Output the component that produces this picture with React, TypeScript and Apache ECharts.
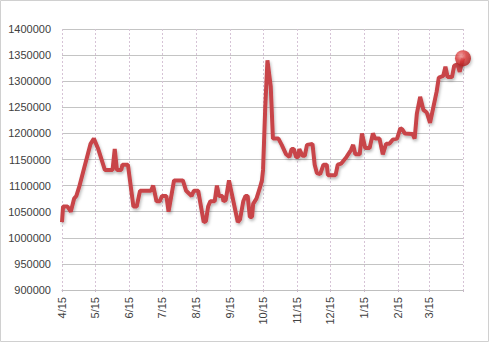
import React, { useEffect, useRef } from "react";
import * as echarts from "echarts";

const dates: string[] = [
  "2012-04-15", "2012-04-16", "2012-04-20", "2012-04-23", "2012-04-26", "2012-04-28",
  "2012-05-01", "2012-05-11", "2012-05-14", "2012-05-18", "2012-05-24", "2012-05-31",
  "2012-06-02", "2012-06-04", "2012-06-08", "2012-06-09", "2012-06-14", "2012-06-19",
  "2012-06-22", "2012-06-25", "2012-07-05", "2012-07-07", "2012-07-10", "2012-07-13",
  "2012-07-15", "2012-07-19", "2012-07-21", "2012-07-26", "2012-08-03", "2012-08-06",
  "2012-08-11", "2012-08-13", "2012-08-17", "2012-08-22", "2012-08-24", "2012-08-26",
  "2012-08-28", "2012-09-01", "2012-09-03", "2012-09-05", "2012-09-08", "2012-09-09",
  "2012-09-11", "2012-09-14", "2012-09-16", "2012-09-19", "2012-09-22", "2012-09-24",
  "2012-09-27", "2012-09-29", "2012-10-01", "2012-10-03", "2012-10-05", "2012-10-06",
  "2012-10-09", "2012-10-12", "2012-10-14", "2012-10-15", "2012-10-17", "2012-10-19",
  "2012-10-22", "2012-10-24", "2012-10-29", "2012-11-01", "2012-11-05", "2012-11-08",
  "2012-11-10", "2012-11-12", "2012-11-14", "2012-11-16", "2012-11-17", "2012-11-20",
  "2012-11-22", "2012-11-24", "2012-11-29", "2012-12-01", "2012-12-03", "2012-12-06",
  "2012-12-09", "2012-12-12", "2012-12-13", "2012-12-20", "2012-12-22", "2012-12-25",
  "2012-12-30", "2013-01-03", "2013-01-05", "2013-01-07", "2013-01-11", "2013-01-13",
  "2013-01-16", "2013-01-20", "2013-01-23", "2013-01-25", "2013-01-29", "2013-02-01",
  "2013-02-04", "2013-02-07", "2013-02-10", "2013-02-14", "2013-02-17", "2013-02-19",
  "2013-02-21", "2013-02-28", "2013-03-02", "2013-03-04", "2013-03-07", "2013-03-10",
  "2013-03-13", "2013-03-16", "2013-03-18", "2013-03-22", "2013-03-24", "2013-03-28",
  "2013-03-30", "2013-04-01", "2013-04-05", "2013-04-07", "2013-04-10", "2013-04-12",
  "2013-04-15",
];

const values: number[] = [
  1030000, 1060000, 1060000, 1050000, 1075000, 1080000,
  1100000, 1180000, 1190000, 1170000, 1130000, 1130000,
  1170000, 1130000, 1130000, 1140000, 1140000, 1060000,
  1060000, 1090000, 1090000, 1100000, 1070000, 1070000,
  1080000, 1080000, 1050000, 1110000, 1110000, 1090000,
  1080000, 1090000, 1090000, 1030000, 1032000, 1060000,
  1070000, 1070000, 1100000, 1080000, 1080000, 1070000,
  1072000, 1110000, 1090000, 1060000, 1030000, 1035000,
  1070000, 1080000, 1080000, 1040000, 1040000, 1065000,
  1075000, 1095000, 1110000, 1130000, 1250000, 1340000,
  1290000, 1190000, 1190000, 1178000, 1160000, 1155000,
  1170000, 1170000, 1155000, 1155000, 1170000, 1157000,
  1157000, 1178000, 1180000, 1140000, 1124000, 1122000,
  1140000, 1140000, 1120000, 1120000, 1140000, 1142000,
  1155000, 1168000, 1178000, 1160000, 1160000, 1200000,
  1172000, 1172000, 1200000, 1190000, 1190000, 1160000,
  1180000, 1180000, 1188000, 1190000, 1210000, 1207000,
  1200000, 1199000, 1190000, 1238000, 1270000, 1245000,
  1240000, 1220000, 1240000, 1280000, 1307000, 1310000,
  1328000, 1308000, 1308000, 1330000, 1332000, 1318000,
  1344000,
];

// Month tick marks on the 15th
const tickDates: string[] = [
  "2012-04-15", "2012-05-15", "2012-06-15", "2012-07-15", "2012-08-15", "2012-09-15",
  "2012-10-15", "2012-11-15", "2012-12-15", "2013-01-15", "2013-02-15", "2013-03-15",
  "2013-04-15",
];
const labelDates: string[] = tickDates.slice(0, 12);

const yMin = 900000;
const yMax = 1400000;
const yStep = 50000;

function toTs(s: string): number {
  const [y, m, d] = s.split("-").map(Number);
  return new Date(y, m - 1, d).getTime();
}

export default function App() {
  const ref = useRef<HTMLDivElement>(null);

  useEffect(() => {
    if (!ref.current) return;
    const chart = echarts.init(ref.current, null, { renderer: "svg" });
    const ticks = tickDates.map(toTs);
    const labelTicks = labelDates.map(toTs);
    const seriesData = dates.map((d, i) => [toTs(d), values[i]]);
    const last = seriesData[seriesData.length - 1];
    const font = "'Liberation Sans', Arial, sans-serif";

    chart.setOption({
      animation: false,
      backgroundColor: "#ffffff",
      grid: { left: 62, right: 27, top: 29, bottom: 53, containLabel: false, outerBoundsMode: "none" },
      xAxis: {
        type: "value",
        min: ticks[0],
        max: ticks[ticks.length - 1],
        axisLine: { show: true, lineStyle: { color: "#bfbfbf", width: 1 } },
        axisTick: {
          show: true,
          length: 4,
          customValues: ticks,
          lineStyle: { color: "#c8b8c8", type: [2, 2] },
        },
        axisLabel: {
          customValues: labelTicks,
          rotate: 90,
          margin: 7,
          color: "#404040",
          fontSize: 11,
          fontFamily: font,
          hideOverlap: false,
          formatter: (v: number) => {
            const d = new Date(v);
            return `${d.getMonth() + 1}/${d.getDate()}`;
          },
        },
        splitLine: {
          show: true,
          lineStyle: { color: "#d6c3d6", width: 1, type: [2, 2] },
        },
      },
      yAxis: {
        type: "value",
        min: yMin,
        max: yMax,
        interval: yStep,
        axisLine: { show: false },
        axisTick: { show: false },
        axisLabel: {
          margin: 11,
          color: "#404040",
          fontSize: 11,
          fontFamily: font,
          formatter: (v: number) => String(v),
        },
        splitLine: { show: true, lineStyle: { color: "#c4c4c4", width: 1 } },
      },
      series: [
        {
          type: "line",
          data: seriesData,
          symbol: "none",
          smooth: false,
          lineStyle: {
            color: "#c8454a",
            width: 4,
            shadowColor: "rgba(0,0,0,0.28)",
            shadowBlur: 3,
            shadowOffsetX: 1,
            shadowOffsetY: 2,
          },
          z: 3,
        },
        {
          type: "scatter",
          data: [last],
          symbol: "circle",
          symbolSize: 16,
          itemStyle: {
            color: {
              type: "radial",
              x: 0.38,
              y: 0.35,
              r: 0.7,
              colorStops: [
                { offset: 0, color: "#f59a9a" },
                { offset: 0.45, color: "#dc3a3a" },
                { offset: 1, color: "#a81c1c" },
              ],
            },
            shadowColor: "rgba(0,0,0,0.3)",
            shadowBlur: 3,
            shadowOffsetX: 1,
            shadowOffsetY: 2,
          },
          z: 5,
        },
      ],
      graphic: [
        {
          type: "rect",
          shape: { x: 0.5, y: 0.5, width: 488, height: 341 },
          style: { fill: "none", stroke: "#d0d0d0", lineWidth: 1 },
          silent: true,
        },
      ],
    });

    return () => {
      chart.dispose();
    };
  }, []);

  return (
    <div
      ref={ref}
      style={{ position: "absolute", left: 0, top: 0, width: 490, height: 343 }}
    />
  );
}
